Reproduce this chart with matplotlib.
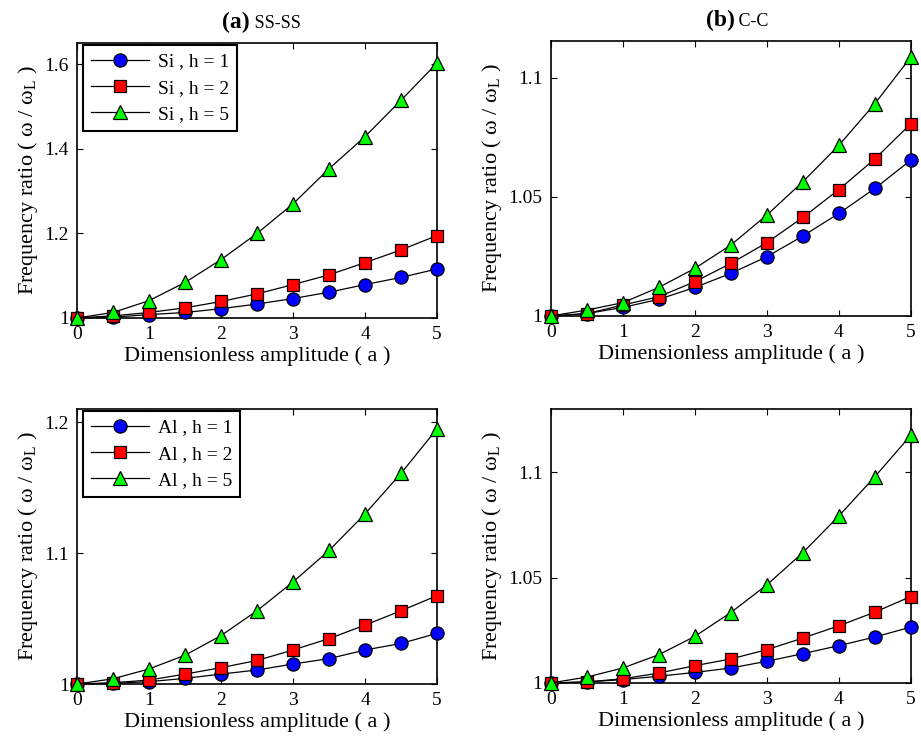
import matplotlib
matplotlib.use("Agg")
import matplotlib.pyplot as plt
import numpy as np

plt.rcParams['font.family'] = ['Liberation Serif', 'DejaVu Serif']
plt.rcParams['mathtext.fontset'] = 'custom'
plt.rcParams['mathtext.rm'] = 'Liberation Serif'
plt.rcParams['mathtext.it'] = 'Liberation Serif:italic'
plt.rcParams['mathtext.bf'] = 'Liberation Serif:bold'

amp = [0, 0.5, 1, 1.5, 2, 2.5, 3, 3.5, 4, 4.5, 5]
h_values = [1, 2, 5]

# SS-SS, silicon
si_ss_h1 = [1.0, 1.002, 1.008, 1.013, 1.022, 1.033, 1.046, 1.061, 1.079, 1.096, 1.116]
si_ss_h2 = [1.0, 1.005, 1.013, 1.024, 1.039, 1.057, 1.079, 1.102, 1.131, 1.161, 1.195]
si_ss_h5 = [1.0, 1.013, 1.041, 1.084, 1.138, 1.200, 1.270, 1.353, 1.429, 1.515, 1.603]

# C-C, silicon
si_cc_h1 = [1.0, 1.001, 1.0036, 1.007, 1.012, 1.0179, 1.0249, 1.0336, 1.0431, 1.0536, 1.0655]
si_cc_h2 = [1.0, 1.001, 1.0046, 1.0081, 1.0144, 1.0221, 1.0308, 1.0414, 1.0531, 1.066, 1.0808]
si_cc_h5 = [1.0, 1.0025, 1.0056, 1.012, 1.020, 1.0298, 1.0424, 1.0564, 1.0717, 1.0892, 1.1088]

# SS-SS, aluminium
al_ss_h1 = [1.0, 1.0005, 1.0018, 1.0043, 1.0076, 1.0107, 1.0153, 1.0194, 1.026, 1.031, 1.0387]
al_ss_h2 = [1.0, 1.001, 1.003, 1.0076, 1.0125, 1.018, 1.026, 1.0347, 1.045, 1.056, 1.0675]
al_ss_h5 = [1.0, 1.004, 1.0115, 1.022, 1.037, 1.056, 1.078, 1.102, 1.130, 1.161, 1.195]

# C-C, aluminium
al_cc_h1 = [1.0, 1.0005, 1.0016, 1.0032, 1.005, 1.0071, 1.0103, 1.0139, 1.0177, 1.0218, 1.0265]
al_cc_h2 = [1.0, 1.0005, 1.002, 1.0047, 1.0082, 1.0114, 1.0158, 1.0213, 1.0271, 1.0336, 1.041]
al_cc_h5 = [1.0, 1.0028, 1.0071, 1.0134, 1.0221, 1.0334, 1.0465, 1.0618, 1.0792, 1.0978, 1.1175]

styles = [('o', 'blue', 9.5), ('s', 'red', 9.0), ('^', 'lime', 10.0)]

panels = [
    # rect, curves, material, ylim, yticks, yticklabels, title
    ([0.0836, 0.5697, 0.391, 0.372], [si_ss_h1, si_ss_h2, si_ss_h5], 'Si',
     (1, 1.65), [1, 1.2, 1.4, 1.6], ['1', '1.2', '1.4', '1.6'], ('(a)', 'SS-SS', 0.48)),
    ([0.598, 0.5724, 0.391, 0.372], [si_cc_h1, si_cc_h2, si_cc_h5], None,
     (1, 1.1155), [1, 1.05, 1.1], ['1', '1.05', '1.1'], ('(b)', 'C-C', 0.51)),
    ([0.0836, 0.0744, 0.391, 0.372], [al_ss_h1, al_ss_h2, al_ss_h5], 'Al',
     (1, 1.21), [1, 1.1, 1.2], ['1', '1.1', '1.2'], None),
    ([0.598, 0.0758, 0.391, 0.371], [al_cc_h1, al_cc_h2, al_cc_h5], None,
     (1, 1.13), [1, 1.05, 1.1], ['1', '1.05', '1.1'], None),
]

fig = plt.figure(figsize=(9.21, 7.39), dpi=100)

for rect, curves, mat, ylim, yticks, ylabels, title in panels:
    ax = fig.add_axes(rect)
    for (mk, col, ms), y, h in zip(styles, curves, h_values):
        lab = '%s , h = %d' % (mat, h) if mat else None
        ax.plot(amp, y, color='black', lw=0.9, marker=mk, markersize=ms,
                markerfacecolor=col, markeredgecolor='black', markeredgewidth=0.9,
                label=lab, clip_on=False, zorder=3)
    ax.set_xlim(0, 5)
    ax.set_ylim(*ylim)
    ax.set_xticks(range(6))
    ax.set_yticks(yticks)
    ax.set_yticklabels(ylabels)
    ax.tick_params(direction='in', top=True, right=True, labelsize=14,
                   length=4, width=0.8, pad=6)
    for s in ax.spines.values():
        s.set_linewidth(1.2)
    ax.set_xlabel('Dimensionless amplitude ( a )', fontsize=16, labelpad=2)
    ax.set_ylabel(r'Frequency ratio ( $\mathrm{\omega}$ / $\mathrm{\omega_L}$ )',
                  fontsize=16, labelpad=3)
    if mat:
        leg = ax.legend(loc='upper left', bbox_to_anchor=(0.017, 0.993),
                        borderaxespad=0, fontsize=14, handlelength=3.0,
                        fancybox=False, framealpha=1, edgecolor='black',
                        labelspacing=0.45, handletextpad=0.45, borderpad=0.4)
        leg.get_frame().set_linewidth(1.5)
    if title:
        tag, name, xf = title
        ax.text(xf, 1.055, tag, transform=ax.transAxes, ha='right', va='baseline',
                fontsize=17, fontweight='bold')
        ax.text(xf, 1.055, ' ' + name, transform=ax.transAxes, ha='left',
                va='baseline', fontsize=13)

fig.savefig('out.png', dpi=100)
